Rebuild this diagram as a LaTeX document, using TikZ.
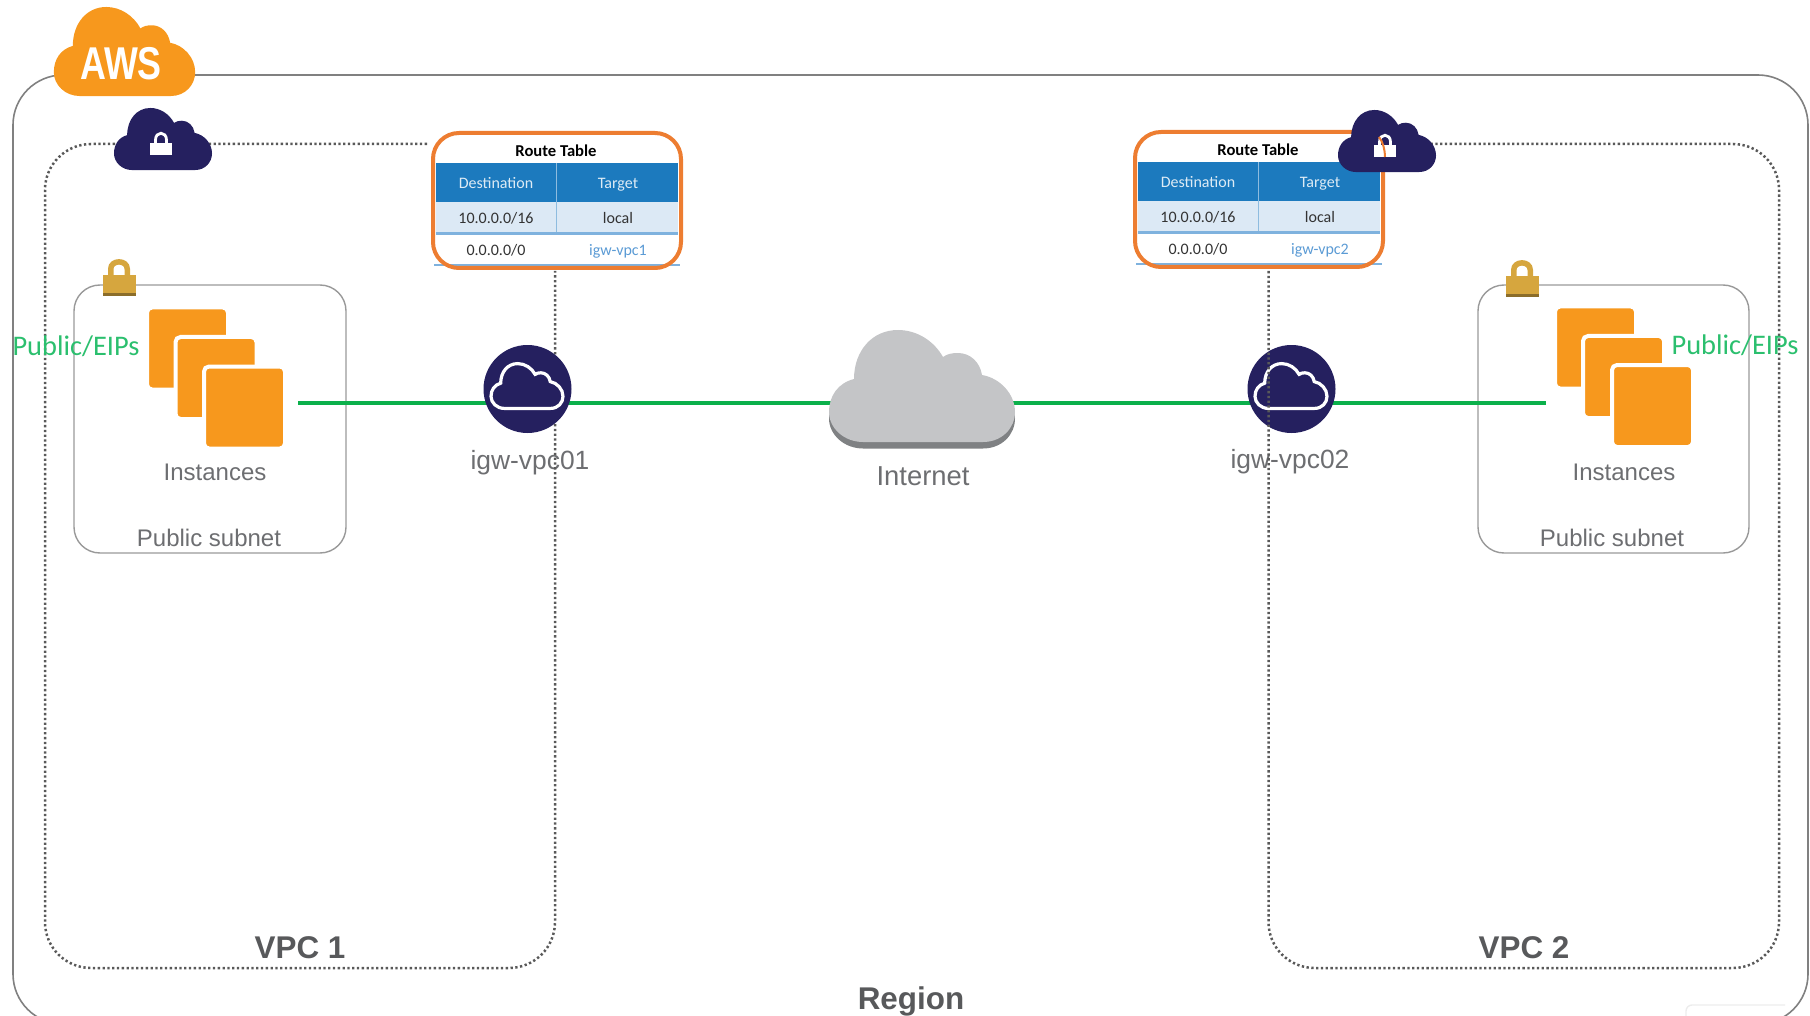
\documentclass[tikz,border=0pt]{standalone}
\usepackage{fontspec}
\setmainfont{Liberation Sans}
\newfontfamily\carlito{Carlito}
\usepackage{tikz}

\definecolor{awsorange}{HTML}{F7981D}
\definecolor{awsnavy}{HTML}{25205F}
\definecolor{cloudgray}{HTML}{C4C5C7}
\definecolor{clouddark}{HTML}{7F8183}
\definecolor{labelgray}{HTML}{6D6E71}
\definecolor{titlegray}{HTML}{58595B}
\definecolor{linkgreen}{HTML}{0BB04B}
\definecolor{eipgreen}{HTML}{2BBF6E}
\definecolor{routeorange}{HTML}{ED7D31}
\definecolor{headblue}{HTML}{1C7ABE}
\definecolor{rowblue}{HTML}{DCE9F5}
\definecolor{edgeblue}{HTML}{7FB2DE}
\definecolor{viablue}{HTML}{5B9BD5}
\definecolor{lockgold}{HTML}{D6A63E}
\definecolor{lockdark}{HTML}{8B6D2A}

\begin{document}
\begin{tikzpicture}[x=0.5pt,y=-0.5pt]
            \tikzset{
              regionbox/.style={draw=gray,line width=0.8pt,rounded corners=25pt},
              subnetbox/.style={draw=gray!80,line width=0.7pt,rounded corners=13pt},
              vpcline/.style={draw=black!65,line width=1.25pt,dash pattern=on 1.15pt off 1.25pt,rounded corners=23pt},
              linkline/.style={draw=linkgreen,line width=2.4pt},
              instbox/.style={fill=awsorange,draw=white,line width=2pt,rounded corners=2.5pt,
                minimum width=40.5pt,minimum height=41pt,inner sep=0pt},
              grayplain/.style={text=labelgray,inner sep=0pt,font=\fontsize{12}{14}\selectfont},
              igwlabel/.style={text=labelgray,inner sep=0pt,font=\fontsize{13.2}{15}\selectfont},
              boldlabel/.style={text=titlegray,inner sep=0pt,font=\fontsize{15.7}{18}\selectfont\bfseries},
              eiplabel/.style={text=eipgreen,inner sep=0pt,font=\carlito\fontsize{14.2}{16}\selectfont},
              tabletitle/.style={text=black,inner sep=0pt,font=\carlito\fontsize{8.3}{10}\selectfont\bfseries},
              tablecell/.style={text=black!80,inner sep=0pt,text height=5.6pt,text depth=1.6pt,font=\carlito\fontsize{8}{10}\selectfont},
              cloudshape/.pic={
                \path[pic actions] (-59,56) -- (61,56) .. controls (80,56) and (93,42) .. (93,26)
                  .. controls (93,8) and (78,-8) .. (60,-11) .. controls (58,-24) and (48,-33) .. (36,-33)
                  .. controls (30,-33) and (25,-32) .. (21,-29) .. controls (12,-45) and (-5,-56) .. (-24,-56)
                  .. controls (-50,-56) and (-68,-35) .. (-68,-7) .. controls (-84,-3) and (-93,10) .. (-93,26)
                  .. controls (-93,42) and (-78,56) .. (-59,56) -- cycle;
              },
              goldlock/.pic={
                \draw[lockgold,line width=2.75pt] (-8.25,2) -- (-8.25,-6) .. controls (-8.25,-15.5) and (8.25,-15.5) .. (8.25,-6) -- (8.25,2);
                \fill[lockgold] (-16.5,0) rectangle (16.5,18.5);
                \fill[lockdark] (-16.5,18.5) rectangle (16.5,21);
              },
              whitelock/.pic={
                \draw[white,line width=1.4pt] (-5.5,1) -- (-5.5,-3) .. controls (-5.5,-12) and (5.5,-12) .. (5.5,-3) -- (5.5,1);
                \fill[white] (-11,0) rectangle (11,12);
              }
            }
            \useasboundingbox (0,0) rectangle (1810,1016);

            \coordinate (internet) at (922,386);
            \coordinate (linkl) at (298,403);
            \coordinate (linkr) at (1546,403);
            \coordinate (igwa) at (527.5,389);
            \coordinate (igwb) at (1291.5,389);

            \draw[regionbox] (13,1024) -- (13,75) -- (1808,75) -- (1808,1024) -- cycle;
            \draw[gray!15,line width=0.7pt,rounded corners=3pt] (1686,1016) -- (1686,1005) -- (1785,1005);

            \draw[subnetbox] (74,285) rectangle (346,553);
            \draw[subnetbox] (1478,285) rectangle (1749,553);
            \pic at (119,275) {goldlock};
            \pic at (1522,276) {goldlock};

            \node[instbox] (insta1) at (187.5,348.5) {};
            \node[instbox] (insta2) at (216,378) {};
            \node[instbox] (insta3) at (244.5,407.5) {};
            \node[instbox] (instb1) at (1595.5,347.5) {};
            \node[instbox] (instb2) at (1623.5,377) {};
            \node[instbox] (instb3) at (1652.5,406) {};

            \draw[linkline] (linkl) -- (linkl -| internet);
            \draw[linkline] (linkr) -- (linkr -| internet);

            \node[grayplain] (insttexta) at (215,472) {Instances};
            \node[grayplain] (insttextb) at (1624,472) {Instances};
            \node[grayplain] (subnettexta) at (209,538) {Public subnet};
            \node[grayplain] (subnettextb) at (1612,538) {Public subnet};
            \node[igwlabel] (igwtexta) at (530,463) {igw-vpc01};
            \node[igwlabel] (igwtextb) at (1290,462) {igw-vpc02};
            \node[grayplain,font=\fontsize{13.7}{16}\selectfont] (internettext) at (923,476) {Internet};
            \node[boldlabel] (vpctexta) at (300,947.5) {VPC 1};
            \node[boldlabel] (vpctextb) at (1524,947.5) {VPC 2};
            \node[boldlabel] (regiontext) at (911,1001) {Region};

            \draw[vpcline] (427,144) -- (45,144) -- (45,968) -- (555,968) -- (555,271);

            \pic[fill=clouddark] at (922,392.5) {cloudshape};
            \pic[fill=cloudgray] at (internet) {cloudshape};

            \fill[awsnavy] (igwa) circle (44);
            \pic[fill=awsnavy,draw=white,line width=1.6pt,xscale=.387,yscale=.4] at (527,386) {cloudshape};
            \fill[awsnavy] (igwb) circle (44);
            \pic[fill=awsnavy,draw=white,line width=1.6pt,xscale=.387,yscale=.4] at (1291,386) {cloudshape};

            \foreach \n/\tx/\ty/\via in {a/0/0/igw-vpc1,b/702/-1/igw-vpc2}{
              \begin{scope}[shift={(\tx,\ty)}]
                \fill[white,rounded corners=13pt] (432,132) rectangle (682,269);
                \fill[headblue] (436,163) rectangle (678,202);
                \fill[rowblue] (436,202) rectangle (678,232);
                \fill[edgeblue] (436,232) rectangle (678,235);
                \fill[edgeblue] (434,264) rectangle (680,266.5);
                \draw[white!50!headblue,line width=0.4pt] (556,163) -- (556,232);
                \node[tabletitle] (title\n) at (556,151) {Route Table};
                \node[tablecell,text=white!85!headblue] (dest\n) at (496,185) {Destination};
                \node[tablecell,text=white!85!headblue] (target\n) at (618,185) {Target};
                \node[tablecell] (cidr\n) at (496,220) {10.0.0.0/16};
                \node[tablecell] (local\n) at (618,220) {local};
                \node[tablecell] (any\n) at (496,251.5) {0.0.0.0/0};
                \node[tablecell,text=viablue] (via\n) at (618,251.5) {\via};
                \draw[routeorange,line width=2pt,rounded corners=13pt] (433,133) rectangle (681,268);
              \end{scope}
            }

            \draw[vpcline] (1268.5,271) -- (1268.5,968) -- (1779,968) -- (1779,144) -- (1430,144);

            \pic[fill=awsorange,xscale=.76,yscale=.795] at (124.5,51.5) {cloudshape};
            \node[text=white,inner sep=0pt,xscale=.78,transform shape,font=\fontsize{23}{26}\selectfont\bfseries] (awstext) at (121,64) {AWS};

            \pic[fill=awsnavy,xscale=.527,yscale=.554] at (163,139) {cloudshape};
            \pic at (161,143) {whitelock};
            \pic[fill=awsnavy,xscale=.527,yscale=.554] at (1387,141) {cloudshape};
            \pic at (1385,145) {whitelock};
            \draw[routeorange,line width=1pt] (1379,137) .. controls (1383,142) and (1385,150) .. (1385,157);

            \node[eiplabel] (eiptexta) at (76,346) {Public/EIPs};
            \node[eiplabel] (eiptextb) at (1735,345) {Public/EIPs};
          \end{tikzpicture}
\end{document}
